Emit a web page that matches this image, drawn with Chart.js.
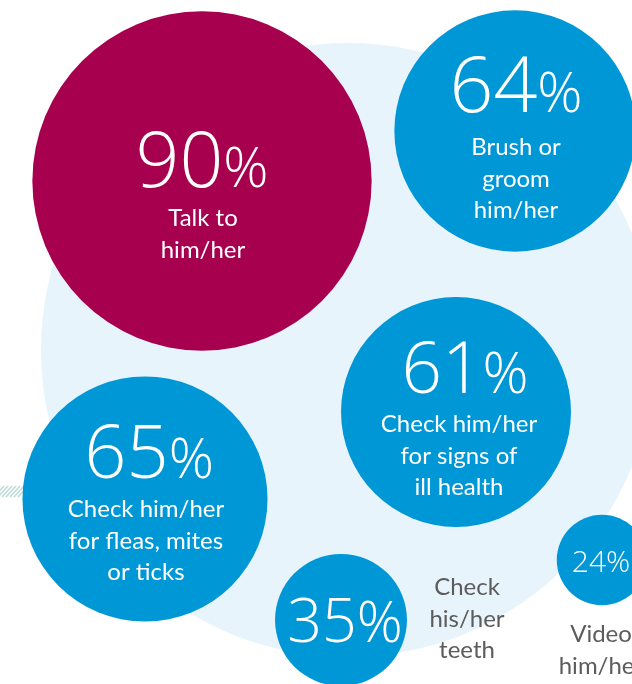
<!DOCTYPE html>
<html>
<head>
<meta charset="utf-8">
<script src="https://cdn.jsdelivr.net/npm/chart.js@4.4.0/dist/chart.umd.min.js"></script>
<style>
  html, body { margin: 0; padding: 0; background: #ffffff; }
  #wrap { width: 632px; height: 684px; }
</style>
</head>
<body>
<div id="wrap"><canvas id="bubbles" width="632" height="684"></canvas></div>
<script>
// What owners do with their pet (% of owners)
const activities = [
  'Talk to him/her',
  'Brush or groom him/her',
  'Check him/her for signs of ill health',
  'Check him/her for fleas, mites or ticks',
  'Check his/her teeth',
  'Video him/her'
];
const shares = [90, 64, 61, 65, 35, 24];
// label text broken the way it is printed
const labelLines = [
  ['Talk to', 'him/her'],
  ['Brush or', 'groom', 'him/her'],
  ['Check him/her', 'for signs of', 'ill health'],
  ['Check him/her', 'for fleas, mites', 'or ticks'],
  ['Check', 'his/her', 'teeth'],
  ['Video', 'him/her']
];

// layout only (hidden axes run 0..632 and 0..684, top down)
const bubbleX = [202, 515, 456, 145, 341, 602];
const bubbleY = [181, 131, 412, 499, 620, 560];
const pxPerPoint = 1.885; // bubble radius per percentage point
const bubbleColors = ['#a6004f', '#0097d7', '#0097d7', '#0097d7', '#0097d7', '#0097d7'];

// number size, % size, offsets of number and label block from the bubble centre
const textStyle = [
  { num: 77, pct: 56, numDx: 0,  numDy: 6,   lab: 24, labDx: 1,   labDy: 45, inside: true },
  { num: 77, pct: 56, numDx: 1,  numDy: -19, lab: 24, labDx: 1,   labDy: 24, inside: true },
  { num: 71, pct: 57, numDx: 9,  numDy: -19, lab: 24, labDx: 3,   labDy: 20, inside: true },
  { num: 74, pct: 56, numDx: 4,  numDy: -21, lab: 24, labDx: 1,   labDy: 18, inside: true },
  { num: 61, pct: 57, numDx: 4,  numDy: 22,  lab: 24, labDx: 126, labDy: -25, inside: false },
  { num: 30, pct: 30, numDx: -1, numDy: 12,  lab: 24, labDx: -1,  labDy: 82, inside: false }
];
const lineGap = 31.5;

// light blue disc behind the bubbles + small hatch on the left edge
const backdrop = {
  id: 'backdrop',
  beforeDatasetsDraw(chart) {
    const { ctx, scales } = chart;
    ctx.save();
    ctx.fillStyle = '#e8f4fc';
    ctx.beginPath();
    ctx.arc(scales.x.getPixelForValue(348), scales.y.getPixelForValue(350), 307, 0, Math.PI * 2);
    ctx.fill();
    ctx.strokeStyle = '#bcdcd8';
    ctx.lineWidth = 1.6;
    for (let hx = -6; hx < 22; hx += 4) {
      ctx.beginPath();
      ctx.moveTo(hx, 497);
      ctx.lineTo(hx + 10, 486);
      ctx.stroke();
    }
    ctx.restore();
  }
};

// numbers and labels
const bubbleText = {
  id: 'bubbleText',
  afterDatasetsDraw(chart) {
    const ctx = chart.ctx;
    const pts = chart.getDatasetMeta(0).data;
    ctx.save();
    ctx.textBaseline = 'alphabetic';
    pts.forEach((pt, i) => {
      const t = textStyle[i];
      const numFont = `300 ${t.num}px "Open Sans"`;
      const pctFont = `300 ${t.pct}px "Open Sans"`;
      ctx.font = numFont;
      const wNum = ctx.measureText(String(shares[i])).width;
      ctx.font = pctFont;
      const wPct = ctx.measureText('%').width;
      const left = pt.x + t.numDx - (wNum + wPct) / 2;
      const base = pt.y + t.numDy;
      ctx.fillStyle = '#ffffff';
      ctx.textAlign = 'left';
      ctx.font = numFont;
      ctx.fillText(String(shares[i]), left, base);
      ctx.font = pctFont;
      ctx.fillText('%', left + wNum, base);

      ctx.textAlign = 'center';
      ctx.fillStyle = t.inside ? '#ffffff' : '#5c5c5c';
      ctx.font = `400 ${t.lab}px Lato`;
      labelLines[i].forEach((line, j) => {
        ctx.fillText(line, pt.x + t.labDx, pt.y + t.labDy + j * lineGap);
      });
    });
    ctx.restore();
  }
};

new Chart(document.getElementById('bubbles'), {
  type: 'bubble',
  plugins: [backdrop, bubbleText],
  data: {
    labels: activities,
    datasets: [{
      label: 'Share of owners',
      data: shares.map((v, i) => ({ x: bubbleX[i], y: bubbleY[i], r: v * pxPerPoint })),
      backgroundColor: bubbleColors,
      borderWidth: 0,
      clip: false
    }]
  },
  options: {
    responsive: false,
    animation: false,
    events: [],
    layout: { padding: 0, autoPadding: false },
    scales: {
      x: { type: 'linear', min: 0, max: 632, display: false },
      y: { type: 'linear', min: 0, max: 684, reverse: true, display: false }
    },
    plugins: {
      legend: { display: false },
      tooltip: { enabled: false }
    }
  }
});
</script>
</body>
</html>
